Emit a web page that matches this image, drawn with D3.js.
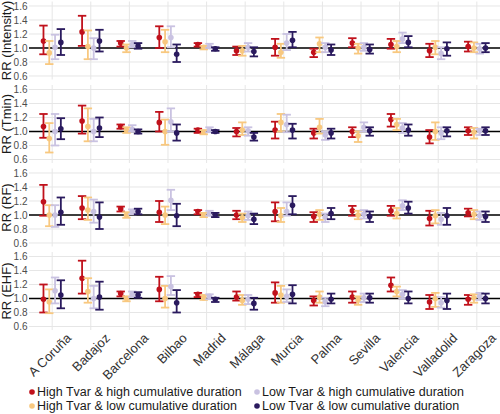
<!DOCTYPE html>
<html><head><meta charset="utf-8">
<script src="https://cdn.jsdelivr.net/npm/d3@7"></script>
<style>body{margin:0;background:#fff} svg{display:block;font-family:"Liberation Sans",Arial,sans-serif}</style>
</head><body><svg id="c" width="500" height="414"></svg>
<script>
const cities = ["A Coruña","Badajoz","Barcelona","Bilbao","Madrid","Málaga","Murcia","Palma","Sevilla","Valencia","Valladolid","Zaragoza"];
const seriesNames = ["High Tvar & high cumulative duration","High Tvar & low cumulative duration","Low Tvar & high cumulative duration","Low Tvar & low cumulative duration"];
const seriesColors = ["#C0111B","#F8C87F","#C9C2E1","#2A1A5E"];
const panelTitles = ["RR (Intensity)","RR (Tmin)","RR (RF)","RR (EHF)"];
const yTickValues = [0.6,0.8,1.0,1.2,1.4,1.6];

// [estimate, lower, upper] per city
const intensityHH = [[1.10,0.91,1.32],[1.23,1.03,1.46],[1.07,1.02,1.10],[1.15,1.00,1.31],[1.05,1.02,1.07],[0.96,0.90,1.02],[1.01,0.89,1.13],[0.94,0.87,0.99],[1.07,1.01,1.14],[1.05,0.99,1.13],[0.96,0.87,1.06],[1.02,0.95,1.09]];
const intensityHL = [[0.93,0.77,1.10],[1.02,0.84,1.25],[1.00,0.94,1.05],[1.09,0.94,1.26],[1.01,0.98,1.03],[0.96,0.89,1.03],[0.94,0.86,1.06],[1.06,0.94,1.15],[1.00,0.92,1.06],[1.02,0.94,1.10],[1.01,0.91,1.10],[1.00,0.94,1.08]];
const intensityLH = [[1.01,0.84,1.19],[1.00,0.84,1.14],[1.05,1.01,1.10],[1.15,1.01,1.31],[1.02,1.00,1.06],[1.01,0.95,1.07],[1.07,0.97,1.20],[1.01,0.94,1.07],[1.01,0.96,1.07],[1.13,1.07,1.22],[0.92,0.84,1.01],[0.99,0.92,1.06]];
const intensityLL = [[1.08,0.90,1.27],[1.10,0.95,1.26],[1.03,0.99,1.07],[0.91,0.80,1.05],[0.99,0.96,1.01],[0.95,0.88,1.01],[1.11,1.01,1.23],[0.97,0.90,1.05],[0.98,0.92,1.05],[1.08,1.01,1.17],[0.99,0.89,1.08],[1.00,0.94,1.07]];

const tminHH = [[1.07,0.91,1.25],[1.15,0.97,1.37],[1.07,1.04,1.10],[1.13,1.00,1.28],[1.02,0.98,1.04],[1.00,0.93,1.05],[1.02,0.90,1.14],[0.98,0.90,1.04],[1.00,0.92,1.06],[1.17,1.07,1.25],[0.92,0.83,1.02],[1.01,0.95,1.06]];
const tminHL = [[0.90,0.70,1.12],[1.07,0.86,1.33],[1.02,0.98,1.06],[1.00,0.81,1.17],[0.99,0.96,1.02],[1.02,0.95,1.13],[1.13,1.00,1.25],[1.06,0.97,1.18],[0.94,0.85,1.00],[1.10,1.02,1.18],[1.00,0.88,1.13],[0.99,0.90,1.05]];
const tminLH = [[1.00,0.80,1.25],[1.00,0.86,1.18],[1.03,1.00,1.09],[1.14,1.00,1.33],[1.02,0.99,1.06],[1.01,0.94,1.06],[1.10,0.99,1.24],[0.95,0.88,1.00],[1.06,1.00,1.13],[1.05,0.98,1.12],[0.98,0.89,1.06],[1.01,0.95,1.04]];
const tminLL = [[1.04,0.89,1.19],[1.05,0.92,1.20],[1.00,0.97,1.03],[0.98,0.87,1.10],[1.00,0.98,1.02],[0.92,0.87,0.98],[1.02,0.90,1.11],[0.98,0.90,1.04],[1.01,0.94,1.06],[1.02,0.94,1.10],[1.01,0.93,1.06],[1.01,0.95,1.06]];

const rfHH = [[1.19,0.99,1.43],[1.10,0.94,1.27],[1.09,1.05,1.12],[1.04,0.90,1.20],[1.05,1.01,1.07],[1.00,0.94,1.06],[1.05,0.91,1.18],[0.98,0.90,1.04],[1.06,0.99,1.13],[1.06,0.99,1.13],[0.95,0.85,1.06],[1.03,0.98,1.09]];
const rfHL = [[1.00,0.84,1.14],[1.07,0.93,1.25],[1.00,0.96,1.04],[1.00,0.87,1.12],[1.00,0.97,1.03],[0.96,0.90,1.02],[0.99,0.90,1.10],[1.01,0.93,1.07],[1.00,0.94,1.06],[1.02,0.95,1.10],[0.99,0.88,1.07],[1.01,0.94,1.07]];
const rfLH = [[1.00,0.83,1.14],[1.05,0.89,1.22],[1.05,1.01,1.08],[1.21,1.07,1.36],[1.02,0.99,1.06],[0.99,0.93,1.05],[1.05,0.99,1.18],[0.97,0.90,1.02],[1.01,0.95,1.07],[1.13,1.07,1.21],[0.94,0.86,1.03],[0.99,0.93,1.05]];
const rfLL = [[1.04,0.86,1.25],[0.97,0.80,1.18],[1.05,1.01,1.09],[0.99,0.84,1.16],[1.00,0.97,1.03],[0.94,0.87,1.02],[1.14,1.01,1.27],[1.02,0.94,1.10],[0.98,0.90,1.05],[1.10,1.02,1.19],[0.99,0.86,1.10],[0.98,0.90,1.05]];

const ehfHH = [[0.99,0.80,1.20],[1.29,1.07,1.54],[1.07,1.03,1.10],[1.13,0.96,1.31],[1.06,1.02,1.08],[1.02,0.97,1.10],[1.08,0.94,1.23],[0.97,0.90,1.03],[1.02,0.94,1.10],[1.19,1.10,1.30],[0.95,0.85,1.05],[0.99,0.91,1.05]];
const ehfHL = [[0.95,0.79,1.13],[1.10,0.94,1.29],[1.00,0.96,1.03],[1.00,0.87,1.18],[1.01,0.98,1.05],[0.97,0.91,1.05],[1.05,0.94,1.18],[1.02,0.94,1.10],[0.98,0.91,1.03],[1.10,1.03,1.17],[1.00,0.88,1.08],[1.01,0.94,1.06]];
const ehfLH = [[1.11,0.93,1.30],[1.00,0.86,1.18],[1.06,1.02,1.10],[1.17,1.05,1.32],[1.03,0.99,1.06],[0.99,0.92,1.05],[1.03,0.95,1.13],[0.95,0.89,1.01],[1.01,0.95,1.07],[1.06,1.00,1.12],[0.94,0.87,1.02],[1.03,0.98,1.08]];
const ehfLL = [[1.05,0.86,1.26],[1.02,0.84,1.24],[1.05,1.01,1.09],[0.94,0.80,1.12],[0.99,0.95,1.01],[0.93,0.84,1.01],[1.06,0.93,1.19],[0.99,0.93,1.07],[1.01,0.94,1.07],[1.00,0.93,1.10],[0.97,0.85,1.07],[1.00,0.93,1.07]];

const panelData = [
  [intensityHH,intensityHL,intensityLH,intensityLL],
  [tminHH,tminHL,tminLH,tminLL],
  [rfHH,rfHL,rfLH,rfLL],
  [ehfHH,ehfHL,ehfLH,ehfLL]
];

const svg = d3.select("#c");
const plotLeft = 29, plotRight = 500;
const panelTop0 = 1.5, panelH = 78, panelStep = 83.5;

const x = d3.scaleBand().domain(cities).range([plotLeft, plotRight]).paddingOuter(0.1).paddingInner(0);
const xc = c => x(c) + x.bandwidth()/2;
const dodge = d3.scalePoint().domain(d3.range(4)).range([-0.225, 0.225].map(v => v * x.bandwidth()));
const capHalf = 4.2;

panelData.forEach((series, p) => {
  const top = panelTop0 + p * panelStep;
  const y = d3.scaleLinear().domain([0.55, 1.664]).range([top + panelH, top]);
  const g = svg.append("g");

  // grid
  g.selectAll("line.hg").data(yTickValues).join("line")
    .attr("x1", plotLeft).attr("x2", plotRight)
    .attr("y1", d => y(d)).attr("y2", d => y(d))
    .attr("stroke", "#e6e6e6").attr("stroke-width", 1);
  g.selectAll("line.vg").data(cities).join("line")
    .attr("x1", d => xc(d)).attr("x2", d => xc(d))
    .attr("y1", top).attr("y2", top + panelH)
    .attr("stroke", "#e6e6e6").attr("stroke-width", 1);

  // y axis
  const ax = g.append("g").attr("transform", `translate(${plotLeft},0)`)
    .call(d3.axisLeft(y).tickValues(yTickValues).tickFormat(d3.format(".1f")).tickSize(0).tickPadding(1.5));
  ax.select(".domain").remove();
  ax.selectAll("text").attr("fill", "#4d4d4d").style("font-size", "10px").style("font-family", "Liberation Sans, Arial, sans-serif");

  g.append("text")
    .attr("transform", `translate(11,${top + panelH/2}) rotate(-90)`)
    .attr("text-anchor", "middle")
    .style("font-size", "13px").attr("fill", "#1a1a1a")
    .text(panelTitles[p]);

  // reference line
  g.append("line").attr("x1", plotLeft).attr("x2", plotRight)
    .attr("y1", y(1)).attr("y2", y(1)).attr("stroke", "#000").attr("stroke-width", 1.4);

  series.forEach((vals, s) => {
    const sg = g.append("g");
    const col = seriesColors[s];
    const px = i => xc(cities[i]) + dodge(s);
    vals.forEach((v, i) => {
      sg.append("line").attr("x1", px(i)).attr("x2", px(i)).attr("y1", y(v[1])).attr("y2", y(v[2]))
        .attr("stroke", col).attr("stroke-width", 1.8);
      sg.append("line").attr("x1", px(i) - capHalf).attr("x2", px(i) + capHalf).attr("y1", y(v[1])).attr("y2", y(v[1]))
        .attr("stroke", col).attr("stroke-width", 1.8);
      sg.append("line").attr("x1", px(i) - capHalf).attr("x2", px(i) + capHalf).attr("y1", y(v[2])).attr("y2", y(v[2]))
        .attr("stroke", col).attr("stroke-width", 1.8);
    });
    sg.selectAll("circle").data(vals).join("circle")
      .attr("cx", (d, i) => px(i)).attr("cy", d => y(d[0])).attr("r", 2.8).attr("fill", col);
  });
});

// x labels
const bottom = panelTop0 + 3 * panelStep + panelH;
svg.append("g").selectAll("text").data(cities).join("text")
  .attr("transform", d => `translate(${xc(d) + 20},${bottom + 9}) rotate(-45)`)
  .attr("text-anchor", "end")
  .style("font-size", "13px").attr("fill", "#333")
  .text(d => d);

// legend
const legendPos = [[32, 396], [32, 410], [257, 396], [257, 410]];
const leg = svg.append("g");
seriesNames.forEach((n, s) => {
  const [lx, ly] = legendPos[s];
  leg.append("circle").attr("cx", lx).attr("cy", ly - 4).attr("r", 2.8).attr("fill", seriesColors[s]);
  leg.append("text").attr("x", lx + 5).attr("y", ly).style("font-size", "12.5px").attr("fill", "#1a1a1a").text(n);
});
</script></body></html>
